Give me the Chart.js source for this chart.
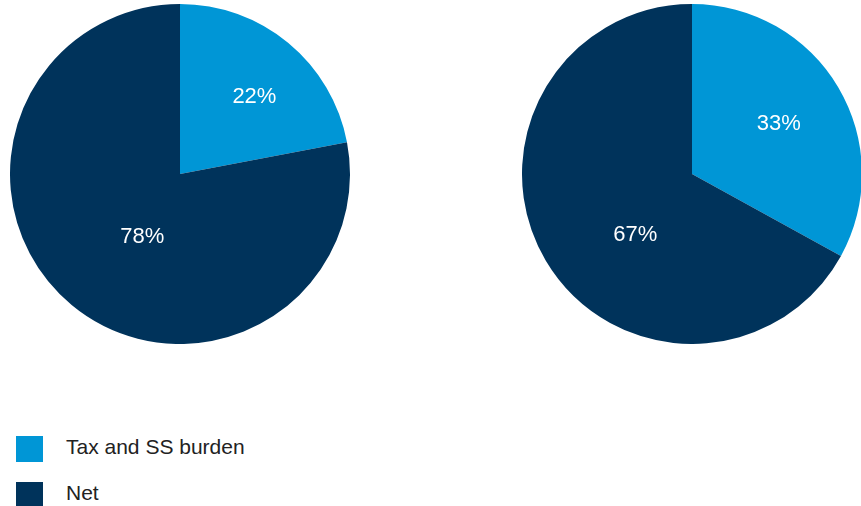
<!DOCTYPE html>
<html lang="en">
<head>
  <meta charset="UTF-8">
  <title>Tax and SS burden</title>
  <script src="https://cdn.jsdelivr.net/npm/chart.js"></script>
  <style>
    html, body { margin: 0; padding: 0; background: #fff; overflow: hidden; }
    body { width: 861px; height: 506px; position: relative; font-family: "Liberation Sans", Arial, sans-serif; }
    .pie { position: absolute; top: 4px; width: 340px; height: 340px; }
    #pieA { left: 10px; }
    #pieB { left: 522px; }
    .legend { position: absolute; left: 16px; top: 435px; }
    .legend-item { display: flex; align-items: center; height: 27px; margin-bottom: 19px; }
    .legend-box { width: 27px; height: 26px; margin-right: 23px; }
    .legend-text { font-size: 21px; color: #222; position: relative; top: -2px; }
  </style>
</head>
<body>
  <div class="pie" id="pieA"><canvas id="chartA"></canvas></div>
  <div class="pie" id="pieB"><canvas id="chartB"></canvas></div>
  <div class="legend" id="legend"></div>

  <script>
    const categories = ['Tax and SS burden', 'Net'];
    const leftValues = [22, 78];
    const rightValues = [33, 67];
    const colors = ['#0096d6', '#00335b'];

    // where each percentage sits: angle from 12 o'clock (deg) and share of the radius
    const leftLabelSpots = [{ angle: 44, dist: 0.63 }, { angle: 211, dist: 0.43 }];
    const rightLabelSpots = [{ angle: 60, dist: 0.59 }, { angle: 223, dist: 0.49 }];

    const pctLabels = {
      id: 'pctLabels',
      afterDatasetsDraw(chart, args, opts) {
        const ctx = chart.ctx;
        const meta = chart.getDatasetMeta(0);
        const values = chart.data.datasets[0].data;
        ctx.save();
        ctx.fillStyle = '#fff';
        ctx.font = '22px "Liberation Sans", Arial, sans-serif';
        ctx.textAlign = 'center';
        ctx.textBaseline = 'middle';
        meta.data.forEach((arc, i) => {
          const spot = opts.spots[i];
          const a = spot.angle * Math.PI / 180;
          const r = arc.outerRadius * spot.dist;
          ctx.fillText(values[i] + '%', arc.x + r * Math.sin(a), arc.y - r * Math.cos(a));
        });
        ctx.restore();
      }
    };

    function makePie(id, values, spots) {
      new Chart(document.getElementById(id), {
        type: 'pie',
        data: {
          labels: categories,
          datasets: [{ data: values, backgroundColor: colors, borderWidth: 0 }]
        },
        options: {
          responsive: true,
          maintainAspectRatio: false,
          animation: false,
          layout: { padding: 0 },
          plugins: {
            legend: { display: false },
            tooltip: { enabled: false },
            pctLabels: { spots: spots }
          }
        },
        plugins: [pctLabels]
      });
    }

    makePie('chartA', leftValues, leftLabelSpots);
    makePie('chartB', rightValues, rightLabelSpots);

    const legend = document.getElementById('legend');
    categories.forEach((name, i) => {
      const item = document.createElement('div');
      item.className = 'legend-item';
      item.innerHTML = '<div class="legend-box" style="background:' + colors[i] + '"></div>' +
        '<span class="legend-text">' + name + '</span>';
      legend.appendChild(item);
    });
  </script>
</body>
</html>
